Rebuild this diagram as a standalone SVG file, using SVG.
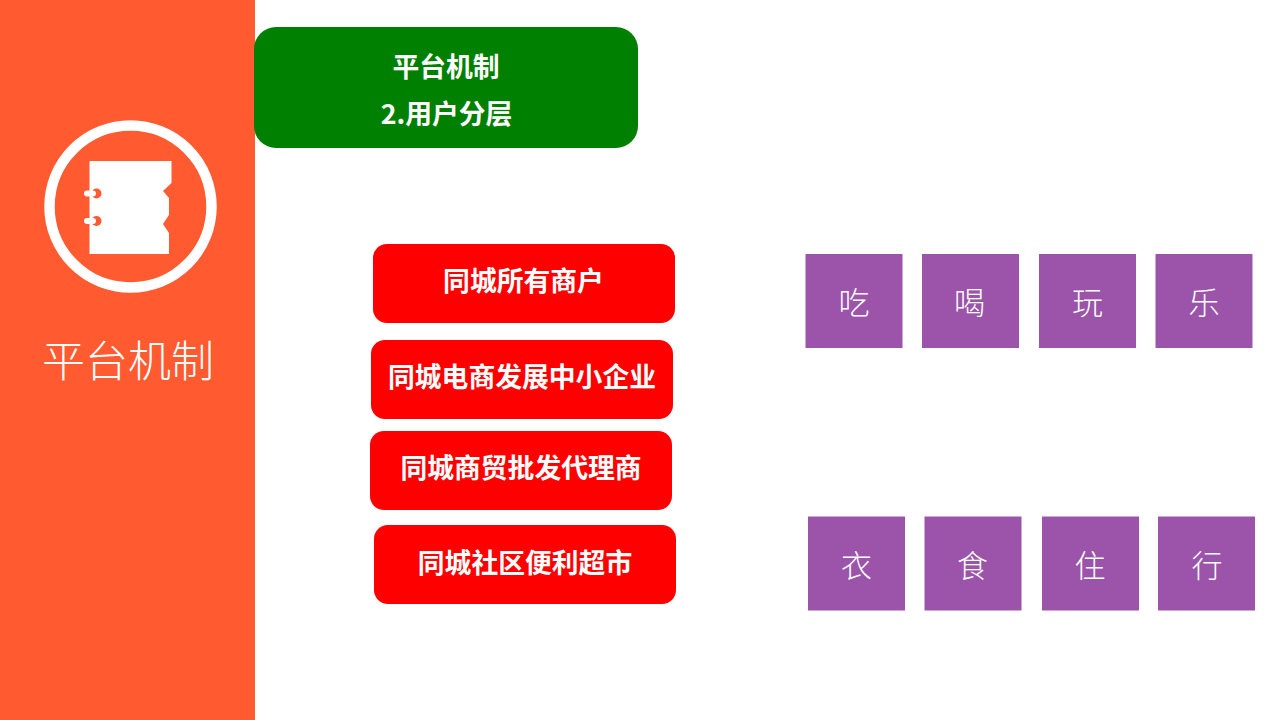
<svg xmlns="http://www.w3.org/2000/svg" width="1280" height="720" viewBox="0 0 1280 720">
<style>
text{font-family:"Noto Sans CJK SC","Liberation Sans",sans-serif;text-anchor:middle;fill:#fff}
.r{fill:#f00}
.p{fill:#9b54a9}
.b{font-size:26.800px;font-weight:700}
.t{font-size:31px;font-weight:300}
</style>
<rect width="1280" height="720" fill="#fff"/>
<g id="sidebar">
<rect width="255" height="720" fill="#ff5a30"/>
<circle cx="130.500" cy="206.500" r="81" fill="none" stroke="#fff" stroke-width="10.500"/>
<path d="M89.500 161H171.500V183L163 191L169 198V215L163 224L169 233V254H89.500Z" fill="#fff"/>
<g fill="#ff5a30"><circle cx="96.500" cy="193.500" r="5"/><circle cx="96.500" cy="221" r="5"/></g>
<g fill="#fff"><rect x="84" y="190.500" width="12" height="6" rx="3"/><rect x="84" y="218" width="12" height="6" rx="3"/></g>
<text x="128" y="377" font-size="43" font-weight="300">平台机制</text>
</g>
<g id="title">
<rect x="254" y="27" width="384" height="121" rx="22" fill="#008000"/>
<text class="b" x="446" y="77">平台机制</text>
<text class="b" x="446.500" y="124">2.用户分层</text>
</g>
<g id="r1"><rect class="r" x="373" y="244" width="302" height="79" rx="14"/><text class="b" x="523.500" y="291">同城所有商户</text></g>
<g id="r2"><rect class="r" x="371" y="340" width="302" height="79" rx="14"/><text class="b" x="522" y="387">同城电商发展中小企业</text></g>
<g id="r3"><rect class="r" x="370" y="431" width="302" height="79" rx="14"/><text class="b" x="521" y="478">同城商贸批发代理商</text></g>
<g id="r4"><rect class="r" x="374" y="525" width="302" height="79" rx="14"/><text class="b" x="525" y="573">同城社区便利超市</text></g>
<g id="p1"><rect class="p" x="805.500" y="254" width="97" height="94"/><text class="t" x="854" y="314">吃</text></g>
<g id="p2"><rect class="p" x="922" y="254" width="97" height="94"/><text class="t" x="969.500" y="314">喝</text></g>
<g id="p3"><rect class="p" x="1039" y="254" width="97" height="94"/><text class="t" x="1087.500" y="314">玩</text></g>
<g id="p4"><rect class="p" x="1155.500" y="254" width="97" height="94"/><text class="t" x="1204" y="314">乐</text></g>
<g id="p5"><rect class="p" x="808" y="516.500" width="97" height="94"/><text class="t" x="856.500" y="577">衣</text></g>
<g id="p6"><rect class="p" x="924.500" y="516.500" width="97" height="94"/><text class="t" x="972.500" y="577">食</text></g>
<g id="p7"><rect class="p" x="1042" y="516.500" width="97" height="94"/><text class="t" x="1090" y="577">住</text></g>
<g id="p8"><rect class="p" x="1158" y="516.500" width="97" height="94"/><text class="t" x="1207" y="577">行</text></g>
</svg>
